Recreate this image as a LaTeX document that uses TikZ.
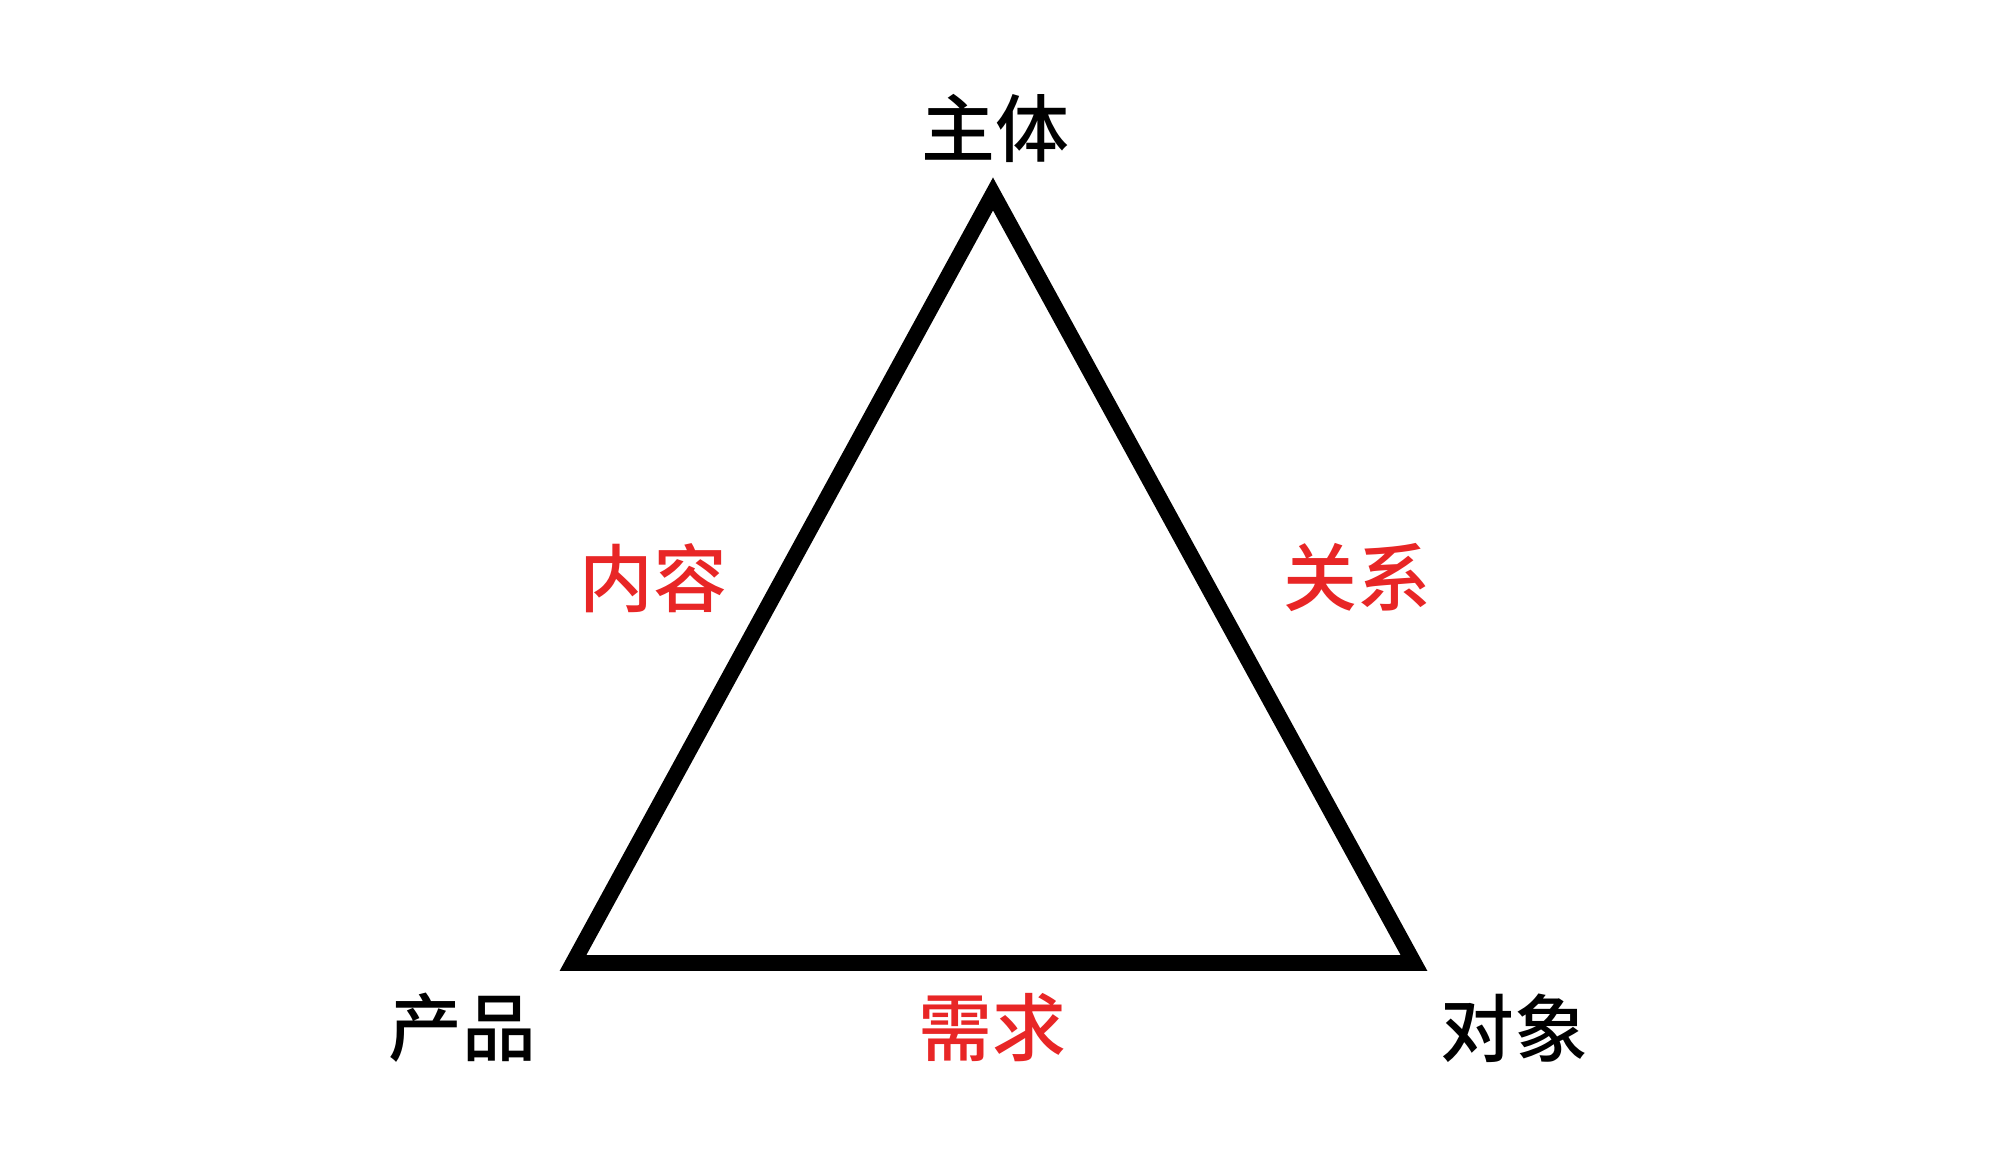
\documentclass[tikz,border=0pt]{standalone}
\usepackage{fontspec}
\usepackage{xcolor}
\usepackage{tikz}
\usetikzlibrary{calc, positioning}
\newfontfamily\cjk{Noto Sans CJK SC Medium}
\definecolor{labelred}{RGB}{232,38,38}

\begin{document}
\begin{tikzpicture}[
    corner/.style={font=\cjk\fontsize{21}{25}\selectfont, text=black, inner sep=0pt},
    sidelabel/.style={font=\cjk\fontsize{21}{25}\selectfont, text=labelred, inner sep=0pt}
    ]
            \useasboundingbox (0,0) rectangle (20.08,11.56);

            % === Vertices ===
            \coordinate (top) at (9.93, 9.62);
            \coordinate (left) at (5.73, 1.93);
            \coordinate (right) at (14.14, 1.93);

            % === Triangle ===
            \draw[line width=4.5pt, line join=miter, black] (top) -- (left) -- (right) -- cycle;

            % === Corner labels ===
            \node[corner] (subject) at (9.95, 10.28) {主体};
            \node[corner] (product) at (4.62, 1.28) {产品};
            \node[corner] (target) at (15.14, 1.28) {对象};

            % === Side labels ===
            \node[sidelabel] (content) at (6.53, 5.78) {内容};
            \node[sidelabel] (relation) at (13.57, 5.78) {关系};
            \node[sidelabel] (demand) at (9.92, 1.28) {需求};
        \end{tikzpicture}
\end{document}
